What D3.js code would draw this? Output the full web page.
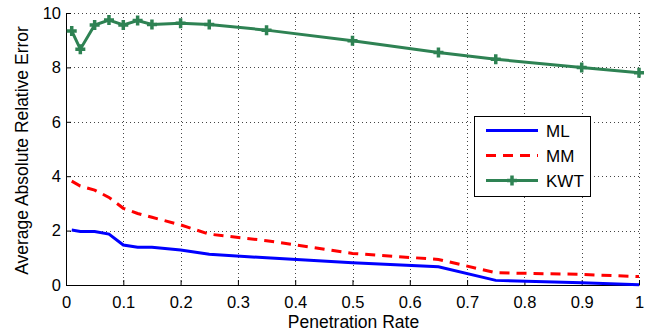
<!DOCTYPE html>
<html><head><meta charset="utf-8">
<script src="https://cdn.jsdelivr.net/npm/d3@7"></script>
<style>
body{margin:0;background:#fff;}
text{font-family:"Liberation Sans",Arial,sans-serif;fill:#000;}
</style></head>
<body><svg id="c" width="661" height="333"></svg>
<script>
const xValues = [0.01,0.025,0.05,0.075,0.1,0.125,0.15,0.2,0.25,0.35,0.5,0.65,0.75,0.9,1.0];
const mlValues = [2.02,1.97,1.97,1.87,1.47,1.39,1.39,1.29,1.13,1.0,0.82,0.67,0.17,0.08,0.01];
const mmValues = [3.82,3.64,3.49,3.22,2.82,2.63,2.49,2.21,1.87,1.63,1.16,0.94,0.45,0.39,0.31];
const kwtValues = [9.34,8.67,9.56,9.74,9.56,9.72,9.58,9.62,9.58,9.37,8.98,8.55,8.30,8.0,7.80];
const xTicks = [0,0.1,0.2,0.3,0.4,0.5,0.6,0.7,0.8,0.9,1];
const xTickLabels = ["0","0.1","0.2","0.3","0.4","0.5","0.6","0.7","0.8","0.9","1"];
const yTicks = [0,2,4,6,8,10];
const seriesNames = ["ML","MM","KWT"];
const xLabel = "Penetration Rate";
const yLabel = "Average Absolute Relative Error";

const svg = d3.select("#c");
const x = d3.scaleLinear().domain([0,1]).range([66,639]);
const y = d3.scaleLinear().domain([0,10]).range([285,13]);

// grid
const grid = svg.append("g").attr("stroke","#444").attr("stroke-width",1).attr("stroke-dasharray","1,3");
grid.selectAll("line.v").data(xTicks.slice(1)).enter().append("line")
  .attr("x1",d=>Math.round(x(d))+0.5).attr("x2",d=>Math.round(x(d))+0.5).attr("y1",y(10)).attr("y2",y(0));
grid.selectAll("line.h").data(yTicks.slice(1)).enter().append("line")
  .attr("y1",d=>Math.round(y(d))+0.5).attr("y2",d=>Math.round(y(d))+0.5).attr("x1",x(0)).attr("x2",x(1));

// axes
const xAxis = d3.axisBottom(x).tickValues(xTicks).tickFormat((d,i)=>xTickLabels[i]).tickSizeInner(-5).tickSizeOuter(0).tickPadding(11);
const gx = svg.append("g").attr("transform",`translate(0,${y(0)})`).call(xAxis);
const yAxis = d3.axisLeft(y).tickValues(yTicks).tickSizeInner(-5).tickSizeOuter(0).tickPadding(5);
const gy = svg.append("g").attr("transform",`translate(${x(0)},0)`).call(yAxis);
[gx,gy].forEach(g=>{
  g.selectAll("text").style("font-size","16.5px").style("font-family","Liberation Sans, Arial, sans-serif");
  g.selectAll("path,line").attr("stroke","#000");
});

svg.append("text").attr("x",(x(0)+x(1))/2+1).attr("y",328).attr("text-anchor","middle").style("font-size","17.5px").text(xLabel);
svg.append("text").attr("transform",`translate(28,${(23+278)/2}) rotate(-90)`).attr("text-anchor","middle").style("font-size","17.5px").text(yLabel);

const line = d3.line().x(d=>x(d[0])).y(d=>y(d[1]));
const mk = (vals)=>xValues.map((v,i)=>[v,vals[i]]);
const green = "#2e8253";
svg.append("path").datum(mk(mlValues)).attr("d",line).attr("fill","none").attr("stroke","#0000ff").attr("stroke-width",3);
svg.append("path").datum(mk(mmValues)).attr("d",line).attr("fill","none").attr("stroke","#ff0000").attr("stroke-width",3).attr("stroke-dasharray","10,7");
svg.append("path").datum(mk(kwtValues)).attr("d",line).attr("fill","none").attr("stroke",green).attr("stroke-width",3);
const cross = (cx,cy,s)=>`M${cx-s},${cy}L${cx+s},${cy}M${cx},${cy-s}L${cx},${cy+s}`;
svg.append("g").selectAll("path").data(mk(kwtValues)).enter().append("path")
  .attr("d",d=>cross(x(d[0]),y(d[1]),5)).attr("stroke",green).attr("stroke-width",3.5).attr("fill","none");

// legend
const lg = svg.append("g");
lg.append("rect").attr("x",474.5).attr("y",116.5).attr("width",116).attr("height",80).attr("fill","#fff").attr("stroke","#000").attr("stroke-width",1);
const rows = [130.5,155.5,180.5];
const styles = [{c:"#0000ff",d:null},{c:"#ff0000",d:"10,7"},{c:green,d:null}];
seriesNames.forEach((n,i)=>{
  const l = lg.append("line").attr("x1",486).attr("x2",538).attr("y1",rows[i]).attr("y2",rows[i]).attr("stroke",styles[i].c).attr("stroke-width",3);
  if(styles[i].d) l.attr("stroke-dasharray",styles[i].d);
  if(i===2) lg.append("path").attr("d",cross(512,rows[i],5)).attr("stroke",green).attr("stroke-width",3.5);
  lg.append("text").attr("x",546).attr("y",rows[i]).attr("dy","0.36em").style("font-size","17px").text(n);
});
</script></body></html>
